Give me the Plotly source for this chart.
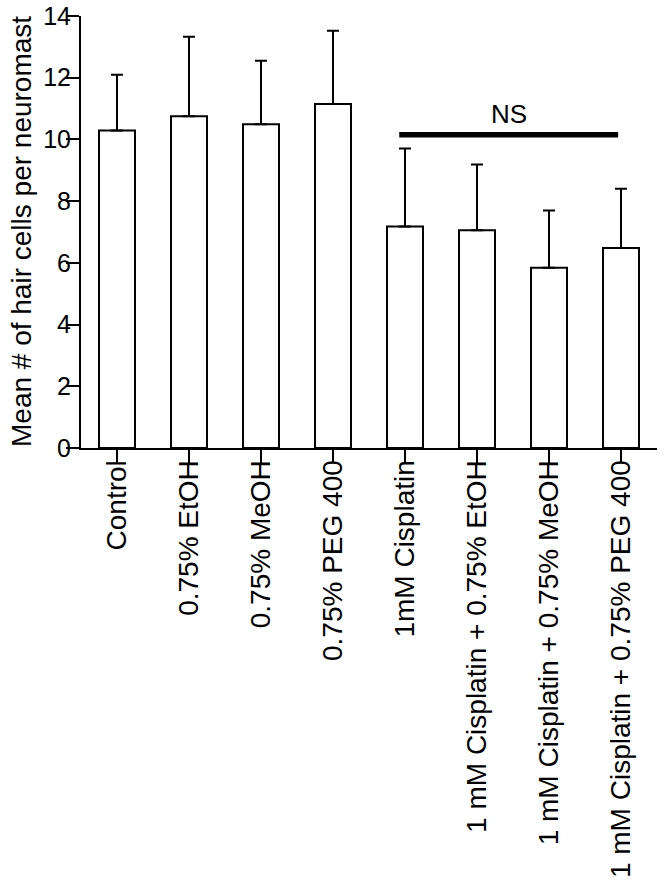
import plotly.graph_objects as go

categories = ["Control", "0.75% EtOH", "0.75% MeOH", "0.75% PEG 400", "1mM Cisplatin",
              "1 mM Cisplatin + 0.75% EtOH", "1 mM Cisplatin + 0.75% MeOH",
              "1 mM Cisplatin + 0.75% PEG 400"]
means = [10.29, 10.75, 10.49, 11.15, 7.18, 7.06, 5.84, 6.48]
sd_upper = [1.81, 2.58, 2.06, 2.37, 2.53, 2.13, 1.86, 1.92]
y_ticks = [0, 2, 4, 6, 8, 10, 12, 14]
ns_level = 10.15
ns_span = [3.92, 6.96]

FONT = "Arial, 'Liberation Sans', Helvetica, sans-serif"

fig = go.Figure()
fig.add_trace(go.Bar(
    x=categories, y=means, width=0.5,
    marker=dict(color="white", line=dict(color="black", width=2)),
    error_y=dict(type="data", symmetric=False, array=sd_upper,
                 arrayminus=[0] * len(means), color="black", thickness=2, width=6),
    showlegend=False,
))

fig.add_shape(type="line", xref="x", yref="y", x0=ns_span[0], x1=ns_span[1],
              y0=ns_level, y1=ns_level, line=dict(color="black", width=5.5))
fig.add_annotation(x=(ns_span[0] + ns_span[1]) / 2, y=ns_level, xref="x", yref="y",
                   text="NS", showarrow=False, yanchor="bottom", yshift=4,
                   font=dict(family=FONT, size=26, color="black"))
fig.add_annotation(x=(21 - 81) / 576, y=0.5, xref="paper", yref="paper",
                   text="Mean # of hair cells per neuromast", showarrow=False,
                   textangle=-90, xanchor="center", yanchor="middle",
                   font=dict(family=FONT, size=28, color="black"))

fig.update_layout(
    width=664, height=883,
    margin=dict(l=81, r=7, t=16, b=435),
    paper_bgcolor="white", plot_bgcolor="white",
    font=dict(family=FONT, color="black"),
    xaxis=dict(showline=True, linecolor="black", linewidth=2, ticks="outside",
               ticklen=13, tickwidth=2, tickcolor="black", tickangle=-90,
               tickfont=dict(size=28), showgrid=False, range=[-0.5, 7.5],
               automargin=False, ticklabelstandoff=-14,
               ticklabeloverflow="allow"),
    yaxis=dict(showline=True, linecolor="black", linewidth=2, ticks="outside",
               ticklen=13, tickwidth=2, tickcolor="black", tickvals=y_ticks,
               tickfont=dict(size=25), showgrid=False, zeroline=False,
               range=[0, 14], automargin=False, ticklabelstandoff=-10,
               ticklabeloverflow="allow"),
)

fig.write_html("out.html", config={"displayModeBar": False},
               post_script="document.body.style.margin='0';document.body.style.overflow='hidden';")
